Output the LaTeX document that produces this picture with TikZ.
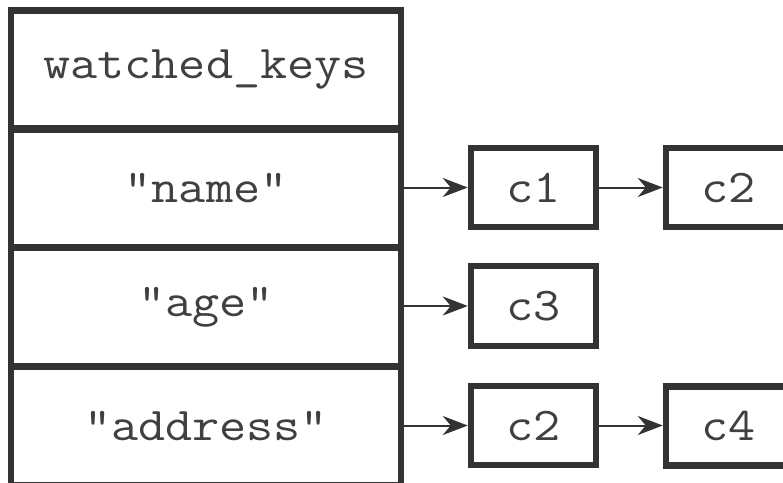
\documentclass[tikz,border=0pt]{standalone}
\usepackage{fontspec}
\newfontfamily\cour{Latin Modern Mono}[FakeStretch=1.12]
\usetikzlibrary{arrows.meta}
\definecolor{ink}{HTML}{333333}
\definecolor{txt}{HTML}{404040}
\tikzset{
  rowbox/.style={draw=ink, line width=6.5pt, minimum width=390pt, minimum height=119pt,
    inner sep=0pt, text=txt, font=\cour\fontsize{47}{52}\selectfont},
  cbox/.style={draw=ink, line width=6.5pt, minimum width=125pt, minimum height=79pt,
    inner sep=0pt, text=txt, font=\cour\fontsize{47}{52}\selectfont},
  arr/.style={draw=ink, line width=2pt, -{Stealth[length=25pt,width=19pt,inset=8pt]}}
}
\begin{document}
\begin{tikzpicture}[x=1pt,y=-1pt]
\useasboundingbox[fill=white] (0,0) rectangle (783,482);
\clip (0,0) rectangle (783,482);
\node[rowbox] (wk) at (206,69.75) {watched\_keys};
\node[rowbox] (name) at (206,188) {"name"};
\node[rowbox] (age) at (206,307) {"age"};
\node[rowbox] (addr) at (206,426) {"address"};
\node[cbox] (c1) at (533.5,187.5) {c1};
\node[cbox] (c2a) at (728.5,187.5) {c2};
\node[cbox, minimum height=80pt] (c3) at (533.5,306) {c3};
\node[cbox] (c2b) at (533.5,425.5) {c2};
\node[cbox] (c4) at (728.5,426) {c4};
\draw[arr] (c1.west -| name.east) -- (c1.west);
\draw[arr] (c1.east) -- (c2a.west);
\draw[arr] (c3.west -| age.east) -- (c3.west);
\draw[arr] (c2b.west -| addr.east) -- (c2b.west);
\draw[arr] (c2b.east) -- (c2b.east -| c4.west);
\end{tikzpicture}
\end{document}
